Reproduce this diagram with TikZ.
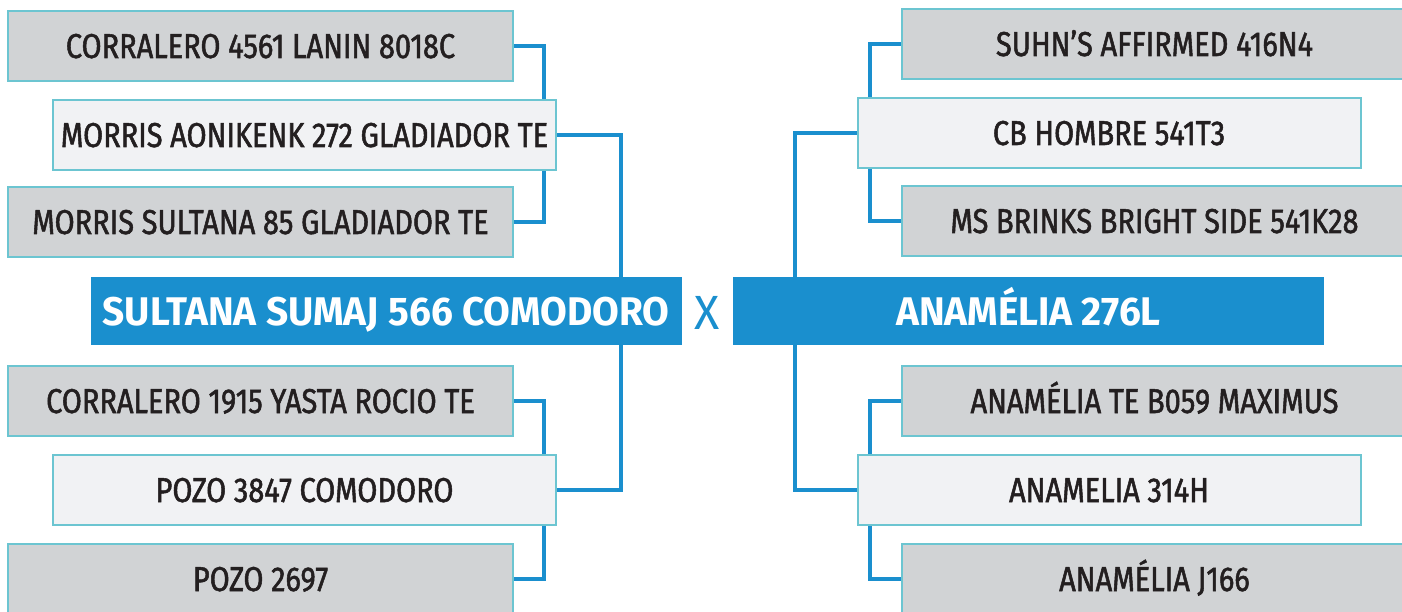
\documentclass[tikz,border=0pt]{standalone}
\usepackage{fontspec}
\setmainfont{Fira Sans}[FakeStretch=0.97]
\newfontfamily\boxfont{Fira Sans}[FakeStretch=0.84, FakeBold=1.5]
\usetikzlibrary{positioning, calc, backgrounds}
\definecolor{lineblue}{HTML}{1A8FCE}
\definecolor{boxgray}{HTML}{D1D3D5}
\definecolor{boxlight}{HTML}{F1F2F4}
\definecolor{boxedge}{HTML}{6CC5D1}
\definecolor{textdark}{HTML}{231F20}

\begin{document}
\begin{tikzpicture}[
    x=1pt, y=-1pt,
    grand/.style={draw=boxedge, line width=2pt, fill=boxgray, minimum width=505pt, minimum height=70pt, inner sep=0pt, text height=24pt, text depth=0pt, text=textdark, font=\boxfont\fontsize{34.5}{38}\selectfont},
    parent/.style={grand, fill=boxlight, minimum width=503pt},
    animal/.style={fill=lineblue, minimum width=591pt, minimum height=68pt, inner sep=0pt, text height=28pt, text depth=0pt, text=white, font=\fontsize{40}{44}\selectfont\bfseries},
    link/.style={draw=lineblue, line width=4pt}
]
    \useasboundingbox (0,0) rectangle (1402,612);

    % left pedigree
    \node[grand] (a1) at (260.5,46) {CORRALERO 4561 LANIN 8018C};
    \node[parent] (a) at (304.5,135) {MORRIS AONIKENK 272 GLADIADOR TE};
    \node[grand] (a2) at (260.5,222) {MORRIS SULTANA 85 GLADIADOR TE};
    \node[animal] (sl) at (386,311) {SULTANA SUMAJ 566 COMODORO};
    \node[grand] (b1) at (260.5,401) {CORRALERO 1915 YASTA ROCIO TE};
    \node[parent] (b) at (304.5,490) {POZO 3847 COMODORO};
    \node[grand] (b2) at (260.5,579) {POZO 2697};

    \node[text=lineblue, inner sep=0pt, font=\fontsize{48}{52}\selectfont] (cross) at (707,313) {X};

    % right pedigree
    \node[grand] (c1) at (1154.5,44) {SUHN’S AFFIRMED 416N4};
    \node[parent] (c) at (1109,133) {CB HOMBRE 541T3};
    \node[grand] (c2) at (1154.5,221) {MS BRINKS BRIGHT SIDE 541K28};
    \node[animal] (sr) at (1028.5,311) {ANAMÉLIA 276L};
    \node[grand] (d1) at (1154.5,401) {ANAMÉLIA TE B059 MAXIMUS};
    \node[parent] (d) at (1109,490) {ANAMELIA 314H};
    \node[grand] (d2) at (1154.5,579) {ANAMÉLIA J166};

    \begin{scope}[on background layer]
        \draw[link] (a1.east) -- ++(30,0) |- (a2.east);
        \draw[link] (a.east) -- ++(64,0) coordinate (ks) -- (ks |- sl.north);
        \draw[link] (sl.south -| ks) |- (b.east);
        \draw[link] (b1.east) -- ++(30,0) |- (b2.east);

        \draw[link] (c1.west) -- ++(-31,0) |- (c2.west);
        \draw[link] (c.west) -- ++(-62,0) coordinate (kd) -- (kd |- sr.north);
        \draw[link] (sr.south -| kd) |- (d.west);
        \draw[link] (d1.west) -- ++(-31,0) |- (d2.west);
    \end{scope}
\end{tikzpicture}
\end{document}
